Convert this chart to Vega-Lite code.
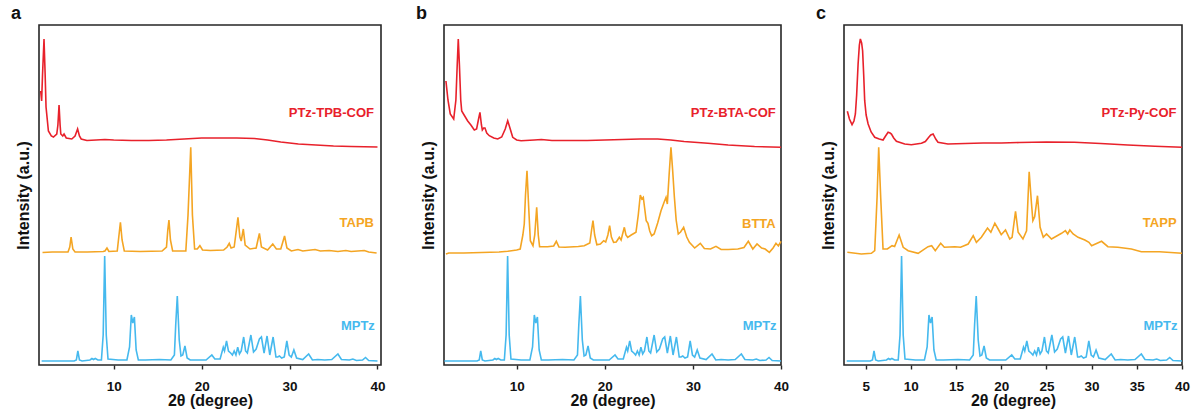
{
  "$schema": "https://vega.github.io/schema/vega-lite/v6.json",
  "background": "white",
  "padding": {"left": 10, "top": 4, "right": 2, "bottom": 2},
  "bounds": "flush",
  "spacing": 63,
  "config": {
    "font": "Liberation Sans",
    "view": {"stroke": "#262626", "strokeWidth": 1.6},
    "axisX": {"titleFontSize": 16, "titleFontWeight": "bold", "titleColor": "#111", "labelFontSize": 13.5, "labelFontWeight": "bold", "labelColor": "#111", "tickSize": 4, "tickColor": "#262626", "tickWidth": 1.4, "domain": false, "grid": false, "labelPadding": 10, "titlePadding": 0, "labelFlush": false},
    "axisY": {"titleFontSize": 16, "titleFontWeight": "bold", "titleColor": "#111", "labels": false, "ticks": false, "domain": false, "grid": false, "titlePadding": 8},
    "title": {"anchor": "start", "fontSize": 18, "fontWeight": "bold", "color": "#111", "frame": "bounds", "offset": 2, "dx": -4},
    "line": {"strokeWidth": 1.6, "clip": true},
    "text": {"fontSize": 13, "fontWeight": "bold", "align": "right", "baseline": "middle"}
  },
  "datasets": {
    "mptz": [
      {"x": 1.8, "y": 4}, {"x": 2.9, "y": 4}, {"x": 5.5, "y": 4}, {"x": 5.75, "y": 5}, {"x": 5.92, "y": 14}, {"x": 6.1, "y": 5}, {"x": 6.4, "y": 4},
      {"x": 7.3, "y": 5}, {"x": 7.52, "y": 6.5}, {"x": 7.7, "y": 5.5}, {"x": 7.9, "y": 6.5}, {"x": 8.2, "y": 5}, {"x": 8.6, "y": 5},
      {"x": 8.8, "y": 30}, {"x": 8.97, "y": 109}, {"x": 9.15, "y": 30}, {"x": 9.35, "y": 6}, {"x": 10.5, "y": 5}, {"x": 11.5, "y": 5},
      {"x": 11.8, "y": 18}, {"x": 12.0, "y": 50}, {"x": 12.17, "y": 42}, {"x": 12.35, "y": 48}, {"x": 12.55, "y": 15}, {"x": 12.8, "y": 5},
      {"x": 13.6, "y": 5}, {"x": 15.2, "y": 5.5}, {"x": 16.5, "y": 5}, {"x": 16.9, "y": 10}, {"x": 17.05, "y": 40}, {"x": 17.23, "y": 69},
      {"x": 17.45, "y": 25}, {"x": 17.65, "y": 9}, {"x": 17.85, "y": 10}, {"x": 18.1, "y": 19}, {"x": 18.35, "y": 7}, {"x": 18.7, "y": 5},
      {"x": 20.5, "y": 5}, {"x": 21.16, "y": 10}, {"x": 21.5, "y": 6}, {"x": 22.1, "y": 6}, {"x": 22.46, "y": 17.7}, {"x": 22.6, "y": 14},
      {"x": 22.83, "y": 24}, {"x": 23.05, "y": 14}, {"x": 23.3, "y": 12}, {"x": 23.5, "y": 10}, {"x": 23.7, "y": 14}, {"x": 23.9, "y": 10},
      {"x": 24.1, "y": 17.7}, {"x": 24.3, "y": 11}, {"x": 24.5, "y": 14}, {"x": 24.78, "y": 28}, {"x": 25.0, "y": 14}, {"x": 25.2, "y": 12},
      {"x": 25.6, "y": 30}, {"x": 25.9, "y": 13}, {"x": 26.2, "y": 16}, {"x": 26.57, "y": 26}, {"x": 26.8, "y": 28}, {"x": 27.1, "y": 12},
      {"x": 27.44, "y": 29}, {"x": 27.75, "y": 10}, {"x": 28.13, "y": 28}, {"x": 28.45, "y": 8}, {"x": 28.65, "y": 8}, {"x": 28.85, "y": 9},
      {"x": 29.1, "y": 7}, {"x": 29.4, "y": 8}, {"x": 29.69, "y": 24}, {"x": 29.95, "y": 10}, {"x": 30.2, "y": 8}, {"x": 30.49, "y": 15},
      {"x": 30.8, "y": 7}, {"x": 31.5, "y": 5.5}, {"x": 32.17, "y": 11}, {"x": 32.6, "y": 5}, {"x": 33.2, "y": 5.5}, {"x": 34, "y": 5},
      {"x": 34.8, "y": 5.5}, {"x": 35.5, "y": 11}, {"x": 35.9, "y": 5.5}, {"x": 36.8, "y": 5}, {"x": 37.2, "y": 6}, {"x": 37.6, "y": 4.5},
      {"x": 38.3, "y": 5}, {"x": 38.64, "y": 7.5}, {"x": 39, "y": 4.5}, {"x": 40, "y": 4}
    ],
    "tpbcof": [
      {"x": 1.69, "y": 274}, {"x": 1.8, "y": 264}, {"x": 1.9, "y": 290}, {"x": 2.07, "y": 326}, {"x": 2.2, "y": 290}, {"x": 2.3, "y": 258},
      {"x": 2.57, "y": 234}, {"x": 2.9, "y": 229}, {"x": 3.14, "y": 228}, {"x": 3.52, "y": 231}, {"x": 3.65, "y": 240}, {"x": 3.78, "y": 260},
      {"x": 3.9, "y": 240}, {"x": 3.98, "y": 231}, {"x": 4.2, "y": 229}, {"x": 4.35, "y": 231}, {"x": 4.6, "y": 227}, {"x": 5.23, "y": 226},
      {"x": 5.6, "y": 229}, {"x": 5.89, "y": 236}, {"x": 6.1, "y": 229}, {"x": 6.3, "y": 226}, {"x": 6.95, "y": 224.5}, {"x": 8, "y": 225},
      {"x": 9, "y": 225.5}, {"x": 10, "y": 225}, {"x": 12, "y": 224.5}, {"x": 14, "y": 224.5}, {"x": 16, "y": 225}, {"x": 18, "y": 226},
      {"x": 20, "y": 227}, {"x": 22, "y": 227}, {"x": 24, "y": 227}, {"x": 26, "y": 226.5}, {"x": 27.5, "y": 225}, {"x": 29, "y": 223},
      {"x": 31, "y": 221}, {"x": 33, "y": 220}, {"x": 35, "y": 219}, {"x": 37, "y": 218.5}, {"x": 40, "y": 218}
    ],
    "tapb": [
      {"x": 1.9, "y": 112.5}, {"x": 3, "y": 113}, {"x": 4.8, "y": 113}, {"x": 5.0, "y": 118}, {"x": 5.15, "y": 128}, {"x": 5.35, "y": 116},
      {"x": 5.6, "y": 113}, {"x": 7, "y": 113}, {"x": 8.8, "y": 113.5}, {"x": 9.0, "y": 114}, {"x": 9.23, "y": 117}, {"x": 9.45, "y": 113.5},
      {"x": 10.4, "y": 114}, {"x": 10.6, "y": 130}, {"x": 10.76, "y": 142.7}, {"x": 10.95, "y": 125}, {"x": 11.2, "y": 114}, {"x": 13, "y": 113.5},
      {"x": 15.5, "y": 114}, {"x": 16.0, "y": 118}, {"x": 16.15, "y": 135}, {"x": 16.28, "y": 145}, {"x": 16.45, "y": 125}, {"x": 16.7, "y": 114},
      {"x": 18.2, "y": 114}, {"x": 18.45, "y": 150}, {"x": 18.76, "y": 217.7}, {"x": 18.95, "y": 150}, {"x": 19.2, "y": 116}, {"x": 19.5, "y": 116},
      {"x": 19.8, "y": 119.3}, {"x": 20.1, "y": 115}, {"x": 21, "y": 114.5}, {"x": 22.5, "y": 115}, {"x": 22.9, "y": 118}, {"x": 23.14, "y": 121.7},
      {"x": 23.35, "y": 117}, {"x": 23.7, "y": 118}, {"x": 23.95, "y": 135}, {"x": 24.13, "y": 147.7}, {"x": 24.35, "y": 128}, {"x": 24.5, "y": 124},
      {"x": 24.74, "y": 136}, {"x": 24.95, "y": 120}, {"x": 25.5, "y": 116}, {"x": 26.2, "y": 117}, {"x": 26.4, "y": 125}, {"x": 26.57, "y": 131.7},
      {"x": 26.8, "y": 118}, {"x": 27.5, "y": 115}, {"x": 28.09, "y": 121}, {"x": 28.5, "y": 116}, {"x": 29.0, "y": 116}, {"x": 29.2, "y": 122},
      {"x": 29.43, "y": 129}, {"x": 29.7, "y": 117}, {"x": 30.2, "y": 114}, {"x": 30.96, "y": 115.5}, {"x": 31.5, "y": 114}, {"x": 32.9, "y": 115.5},
      {"x": 33.5, "y": 114}, {"x": 34.5, "y": 114.5}, {"x": 35.5, "y": 113.5}, {"x": 36.4, "y": 114.5}, {"x": 37, "y": 113.5}, {"x": 38.5, "y": 114.5},
      {"x": 39, "y": 113}, {"x": 39.9, "y": 112}
    ],
    "btacof": [
      {"x": 1.97, "y": 284}, {"x": 2.2, "y": 265}, {"x": 2.46, "y": 251}, {"x": 2.85, "y": 246}, {"x": 3.1, "y": 265}, {"x": 3.25, "y": 300},
      {"x": 3.37, "y": 326}, {"x": 3.5, "y": 300}, {"x": 3.65, "y": 265}, {"x": 3.76, "y": 254}, {"x": 4.1, "y": 249}, {"x": 4.44, "y": 244},
      {"x": 4.8, "y": 240}, {"x": 5.19, "y": 235}, {"x": 5.45, "y": 236}, {"x": 5.65, "y": 245}, {"x": 5.83, "y": 252.7}, {"x": 6.0, "y": 240},
      {"x": 6.1, "y": 235}, {"x": 6.25, "y": 237}, {"x": 6.4, "y": 237}, {"x": 6.6, "y": 232}, {"x": 6.89, "y": 229.3}, {"x": 7.4, "y": 227},
      {"x": 7.85, "y": 226}, {"x": 8.3, "y": 228}, {"x": 8.7, "y": 236}, {"x": 8.98, "y": 244.3}, {"x": 9.2, "y": 238}, {"x": 9.55, "y": 227.7},
      {"x": 10, "y": 225}, {"x": 10.5, "y": 224.3}, {"x": 12, "y": 225}, {"x": 12.8, "y": 225.5}, {"x": 14, "y": 224.5}, {"x": 16, "y": 224.5},
      {"x": 18, "y": 224.5}, {"x": 20, "y": 225}, {"x": 22, "y": 225.5}, {"x": 24, "y": 226}, {"x": 26, "y": 226}, {"x": 27.5, "y": 225},
      {"x": 29, "y": 223.5}, {"x": 31.7, "y": 221.7}, {"x": 34, "y": 220}, {"x": 37, "y": 218.5}, {"x": 40, "y": 217.7}
    ],
    "btta": [
      {"x": 1.97, "y": 111}, {"x": 2.3, "y": 112}, {"x": 4, "y": 112}, {"x": 6, "y": 112.5}, {"x": 8, "y": 113}, {"x": 8.98, "y": 113.7},
      {"x": 10.0, "y": 115}, {"x": 10.4, "y": 116}, {"x": 10.7, "y": 130}, {"x": 10.86, "y": 141}, {"x": 11.0, "y": 170}, {"x": 11.17, "y": 194.3},
      {"x": 11.35, "y": 160}, {"x": 11.55, "y": 124.3}, {"x": 11.85, "y": 119.3}, {"x": 12.05, "y": 130}, {"x": 12.27, "y": 157.7}, {"x": 12.45, "y": 130},
      {"x": 12.6, "y": 118.3}, {"x": 13.5, "y": 118.3}, {"x": 14.2, "y": 119}, {"x": 14.5, "y": 123.7}, {"x": 14.8, "y": 118}, {"x": 15.5, "y": 117.7},
      {"x": 17, "y": 118.5}, {"x": 17.67, "y": 119.3}, {"x": 18.3, "y": 122}, {"x": 18.5, "y": 135}, {"x": 18.66, "y": 144.3}, {"x": 18.85, "y": 130},
      {"x": 19.1, "y": 120.3}, {"x": 19.5, "y": 121}, {"x": 19.87, "y": 124.3}, {"x": 20.1, "y": 123}, {"x": 20.35, "y": 130}, {"x": 20.55, "y": 139.3},
      {"x": 20.75, "y": 128}, {"x": 21.0, "y": 122.7}, {"x": 21.3, "y": 123}, {"x": 21.65, "y": 127.7}, {"x": 21.85, "y": 125}, {"x": 22.05, "y": 132},
      {"x": 22.22, "y": 137.7}, {"x": 22.4, "y": 130}, {"x": 22.6, "y": 127.7}, {"x": 23.0, "y": 130}, {"x": 23.54, "y": 132.7}, {"x": 23.8, "y": 150},
      {"x": 24.03, "y": 170}, {"x": 24.2, "y": 166}, {"x": 24.37, "y": 167.7}, {"x": 24.55, "y": 155}, {"x": 24.7, "y": 144.3}, {"x": 24.9, "y": 141.7},
      {"x": 25.1, "y": 134}, {"x": 25.32, "y": 129.3}, {"x": 25.6, "y": 131}, {"x": 26.0, "y": 142}, {"x": 26.38, "y": 154.3}, {"x": 26.7, "y": 162},
      {"x": 26.95, "y": 167.7}, {"x": 27.1, "y": 161}, {"x": 27.3, "y": 190}, {"x": 27.51, "y": 217.7}, {"x": 27.7, "y": 195}, {"x": 27.9, "y": 167.7},
      {"x": 28.1, "y": 145}, {"x": 28.34, "y": 131}, {"x": 28.6, "y": 133}, {"x": 28.95, "y": 137.7}, {"x": 29.3, "y": 128}, {"x": 29.6, "y": 122.7},
      {"x": 30.2, "y": 117}, {"x": 30.84, "y": 121.7}, {"x": 31.3, "y": 116.5}, {"x": 32, "y": 116}, {"x": 32.62, "y": 118.7}, {"x": 33.2, "y": 115.5},
      {"x": 34, "y": 115.5}, {"x": 35.1, "y": 116}, {"x": 35.8, "y": 117.5}, {"x": 36.29, "y": 123.7}, {"x": 36.8, "y": 116}, {"x": 37.28, "y": 121},
      {"x": 37.8, "y": 117}, {"x": 38.2, "y": 116}, {"x": 38.68, "y": 112.7}, {"x": 39.1, "y": 117}, {"x": 39.43, "y": 121.7}, {"x": 39.7, "y": 119},
      {"x": 40, "y": 123.7}
    ],
    "pycof": [
      {"x": 2.97, "y": 253.7}, {"x": 3.2, "y": 246}, {"x": 3.49, "y": 240.3}, {"x": 3.7, "y": 244}, {"x": 3.86, "y": 251}, {"x": 4.0, "y": 270},
      {"x": 4.16, "y": 301}, {"x": 4.3, "y": 320}, {"x": 4.41, "y": 326}, {"x": 4.55, "y": 322}, {"x": 4.66, "y": 314.3}, {"x": 4.78, "y": 290},
      {"x": 4.89, "y": 264.3}, {"x": 5.05, "y": 250}, {"x": 5.27, "y": 241}, {"x": 5.6, "y": 233}, {"x": 6.0, "y": 227.7}, {"x": 6.5, "y": 226},
      {"x": 6.92, "y": 225}, {"x": 7.2, "y": 229}, {"x": 7.48, "y": 232.7}, {"x": 7.7, "y": 232}, {"x": 7.85, "y": 231}, {"x": 8.1, "y": 227},
      {"x": 8.4, "y": 223.7}, {"x": 9.32, "y": 221}, {"x": 10.05, "y": 220.3}, {"x": 11.17, "y": 221.7}, {"x": 11.6, "y": 223.5}, {"x": 11.98, "y": 227.7},
      {"x": 12.2, "y": 230}, {"x": 12.46, "y": 231}, {"x": 12.75, "y": 226}, {"x": 13.0, "y": 222.7}, {"x": 14.1, "y": 221}, {"x": 16, "y": 221.5},
      {"x": 18, "y": 222}, {"x": 20, "y": 222}, {"x": 22, "y": 222.5}, {"x": 25, "y": 223}, {"x": 28.1, "y": 222.7}, {"x": 31, "y": 221.5},
      {"x": 34, "y": 220}, {"x": 37, "y": 218.8}, {"x": 40, "y": 217.7}
    ],
    "tapp": [
      {"x": 2.97, "y": 112.7}, {"x": 4.52, "y": 111}, {"x": 5.63, "y": 111.7}, {"x": 6.0, "y": 114.3}, {"x": 6.26, "y": 167.7}, {"x": 6.44, "y": 217.7},
      {"x": 6.66, "y": 167.7}, {"x": 6.92, "y": 116}, {"x": 7.4, "y": 116}, {"x": 7.92, "y": 119.3}, {"x": 8.2, "y": 118.5}, {"x": 8.7, "y": 130},
      {"x": 9.15, "y": 117.7}, {"x": 9.7, "y": 114.3}, {"x": 10.8, "y": 111.7}, {"x": 11.9, "y": 118.3}, {"x": 12.3, "y": 119.3}, {"x": 12.7, "y": 114.3},
      {"x": 13.3, "y": 121.7}, {"x": 13.7, "y": 117.7}, {"x": 14.86, "y": 118.3}, {"x": 15.5, "y": 117.7}, {"x": 16.34, "y": 121}, {"x": 16.9, "y": 129.3},
      {"x": 17.25, "y": 122.7}, {"x": 17.8, "y": 127.7}, {"x": 18.48, "y": 137}, {"x": 18.85, "y": 132.7}, {"x": 19.29, "y": 141.7}, {"x": 19.66, "y": 136},
      {"x": 20.0, "y": 130.3}, {"x": 20.47, "y": 135}, {"x": 20.94, "y": 126}, {"x": 21.2, "y": 127.7}, {"x": 21.58, "y": 153.7}, {"x": 21.87, "y": 132.7},
      {"x": 22.4, "y": 126}, {"x": 22.8, "y": 134.3}, {"x": 23.09, "y": 193.3}, {"x": 23.35, "y": 161}, {"x": 23.5, "y": 144.3}, {"x": 23.7, "y": 148.3},
      {"x": 24.01, "y": 169.3}, {"x": 24.3, "y": 137.7}, {"x": 24.65, "y": 127.7}, {"x": 25.01, "y": 131}, {"x": 25.56, "y": 126}, {"x": 26.67, "y": 131.7},
      {"x": 27.1, "y": 134.3}, {"x": 27.35, "y": 131}, {"x": 27.59, "y": 135}, {"x": 27.95, "y": 131}, {"x": 28.5, "y": 127.7}, {"x": 29.25, "y": 125},
      {"x": 29.7, "y": 122.7}, {"x": 30.0, "y": 119.3}, {"x": 31.1, "y": 123.7}, {"x": 31.8, "y": 118.3}, {"x": 32.9, "y": 117.7}, {"x": 34.4, "y": 116},
      {"x": 35.5, "y": 113.3}, {"x": 37.5, "y": 113.3}, {"x": 40, "y": 111.7}
    ],
    "labels_a": [
      {"x": 39.6, "y": 252, "label": "PTz-TPB-COF", "series": "COF"},
      {"x": 39.6, "y": 141.7, "label": "TAPB", "series": "monomer"},
      {"x": 39.7, "y": 39.3, "label": "MPTz", "series": "MPTz"}
    ],
    "labels_b": [
      {"x": 39.4, "y": 252, "label": "PTz-BTA-COF", "series": "COF"},
      {"x": 39.4, "y": 141, "label": "BTTA", "series": "monomer"},
      {"x": 39.5, "y": 39.3, "label": "MPTz", "series": "MPTz"}
    ],
    "labels_c": [
      {"x": 39.4, "y": 252, "label": "PTz-Py-COF", "series": "COF"},
      {"x": 39.4, "y": 142, "label": "TAPP", "series": "monomer"},
      {"x": 39.5, "y": 39.3, "label": "MPTz", "series": "MPTz"}
    ]
  },
  "hconcat": [
    {
      "title": "a",
      "width": 342, "height": 340,
      "encoding": {
        "x": {"field": "x", "type": "quantitative", "title": "2θ (degree)", "scale": {"domain": [1.5, 40.4], "nice": false, "zero": false}, "axis": {"values": [10, 20, 30, 40]}},
        "y": {"field": "y", "type": "quantitative", "title": "Intensity (a.u.)", "scale": {"domain": [0, 340], "nice": false, "zero": false}}
      },
      "layer": [
        {"data": {"name": "mptz"}, "mark": {"type": "line", "color": "#45b9ee"}},
        {"data": {"name": "tapb"}, "mark": {"type": "line", "color": "#f4a523"}},
        {"data": {"name": "tpbcof"}, "mark": {"type": "line", "color": "#e8212b"}},
        {"data": {"name": "labels_a"}, "mark": {"type": "text"}, "encoding": {"text": {"field": "label"}, "color": {"field": "series", "type": "nominal", "scale": {"domain": ["COF", "monomer", "MPTz"], "range": ["#e8212b", "#f4a523", "#45b9ee"]}, "legend": null}}}
      ]
    },
    {
      "title": "b",
      "width": 337, "height": 340,
      "encoding": {
        "x": {"field": "x", "type": "quantitative", "title": "2θ (degree)", "scale": {"domain": [1.75, 40.0], "nice": false, "zero": false}, "axis": {"values": [10, 20, 30, 40]}},
        "y": {"field": "y", "type": "quantitative", "title": "Intensity (a.u.)", "scale": {"domain": [0, 340], "nice": false, "zero": false}}
      },
      "layer": [
        {"data": {"name": "mptz"}, "mark": {"type": "line", "color": "#45b9ee"}},
        {"data": {"name": "btta"}, "mark": {"type": "line", "color": "#f4a523"}},
        {"data": {"name": "btacof"}, "mark": {"type": "line", "color": "#e8212b"}},
        {"data": {"name": "labels_b"}, "mark": {"type": "text"}, "encoding": {"text": {"field": "label"}, "color": {"field": "series", "type": "nominal", "scale": {"domain": ["COF", "monomer", "MPTz"], "range": ["#e8212b", "#f4a523", "#45b9ee"]}, "legend": null}}}
      ]
    },
    {
      "title": "c",
      "width": 338, "height": 340,
      "encoding": {
        "x": {"field": "x", "type": "quantitative", "title": "2θ (degree)", "scale": {"domain": [2.6, 40.0], "nice": false, "zero": false}, "axis": {"values": [5, 10, 15, 20, 25, 30, 35, 40]}},
        "y": {"field": "y", "type": "quantitative", "title": "Intensity (a.u.)", "scale": {"domain": [0, 340], "nice": false, "zero": false}}
      },
      "layer": [
        {"data": {"name": "mptz"}, "transform": [{"filter": "datum.x >= 2.9"}], "mark": {"type": "line", "color": "#45b9ee"}},
        {"data": {"name": "tapp"}, "mark": {"type": "line", "color": "#f4a523"}},
        {"data": {"name": "pycof"}, "mark": {"type": "line", "color": "#e8212b"}},
        {"data": {"name": "labels_c"}, "mark": {"type": "text"}, "encoding": {"text": {"field": "label"}, "color": {"field": "series", "type": "nominal", "scale": {"domain": ["COF", "monomer", "MPTz"], "range": ["#e8212b", "#f4a523", "#45b9ee"]}, "legend": null}}}
      ]
    }
  ]
}
